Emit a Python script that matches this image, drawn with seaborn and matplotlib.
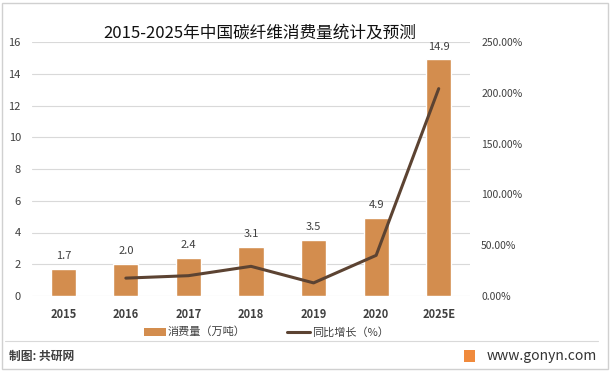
import pandas as pd
import seaborn as sns
import matplotlib.pyplot as plt
from matplotlib.patches import Rectangle
from matplotlib.lines import Line2D

# data
years = ["2015", "2016", "2017", "2018", "2019", "2020", "2025E"]
consumption = [1.7, 2.0, 2.4, 3.1, 3.5, 4.9, 14.9]          # 万吨
growth_years = ["2016", "2017", "2018", "2019", "2020", "2025E"]
growth = [17.6, 20.0, 29.2, 12.9, 40.0, 204.1]             # %

bar_color = "#D38D4E"
line_color = "#5C4332"

sns.set_style("white")
plt.rcParams['font.family'] = ['Noto Sans CJK SC', 'DejaVu Sans']

df = pd.DataFrame({"year": years, "value": consumption})
gdf = pd.DataFrame({"year": growth_years, "growth": growth})
gdf["pos"] = [years.index(y) for y in growth_years]

fig = plt.figure(figsize=(6.12, 3.71), dpi=100)
ax = fig.add_axes([32 / 612, 75 / 371, 438 / 612, 254 / 371])

sns.barplot(data=df, x="year", y="value", color=bar_color, width=0.4,
            saturation=1, ax=ax, zorder=2)
ax.set_ylim(0, 16)
ax.set_xlim(-0.5, len(years) - 0.5)
ax.set_yticks(range(0, 17, 2))
ax.grid(axis="y", color="#D9D9D9", linewidth=0.8, zorder=0)
ax.set_axisbelow(True)
for s in ax.spines.values():
    s.set_visible(False)
ax.tick_params(axis="y", length=0, labelsize=8, colors="#404040", pad=8)
ax.tick_params(axis="x", length=0, labelsize=8, colors="#404040", pad=9)
ax.set_xlabel("")
ax.set_ylabel("")
for lbl in ax.get_xticklabels():
    lbl.set_fontweight("bold")

for i, v in enumerate(consumption):
    ax.text(i, v + 0.5, f"{v:.1f}", ha="center", va="bottom", fontsize=8, color="#404040")

ax2 = ax.twinx()
sns.lineplot(data=gdf, x="pos", y="growth", color=line_color, linewidth=2.2, ax=ax2, zorder=3)
ax2.set_ylim(0, 250)
ax2.set_yticks(range(0, 251, 50))
ax2.set_yticklabels([f"{t:.2f}%" for t in range(0, 251, 50)])
ax2.set_xlim(-0.5, len(years) - 0.5)
for s in ax2.spines.values():
    s.set_visible(False)
ax2.tick_params(axis="y", length=0, labelsize=7.5, colors="#404040", pad=8)
ax2.set_xlabel("")
ax2.set_ylabel("")

fig.text(260 / 612, 1 - 33 / 371, "2015-2025年中国碳纤维消费量统计及预测", ha="center", va="center",
         fontsize=12, color="#111111")

# legend
fig.patches.append(Rectangle((144 / 612, 1 - 336 / 371), 22 / 612, 8 / 371, transform=fig.transFigure,
                             facecolor=bar_color, edgecolor="none"))
fig.text(168 / 612, 1 - 332 / 371, "消费量（万吨）", ha="left", va="center", fontsize=8, color="#404040")
fig.lines.append(Line2D([287 / 612, 310 / 612], [1 - 332 / 371] * 2, transform=fig.transFigure,
                        color=line_color, linewidth=2.2))
fig.text(312 / 612, 1 - 332 / 371, "同比增长（%）", ha="left", va="center", fontsize=8, color="#404040")

# footer
fig.lines.append(Line2D([5 / 612, 598 / 612], [1 - 341 / 371] * 2, transform=fig.transFigure,
                        color="#D9D9D9", linewidth=0.8))
fig.text(9 / 612, 1 - 356 / 371, "制图: 共研网", ha="left", va="center", fontsize=8.5,
         fontweight="bold", color="#404040")
fig.patches.append(Rectangle((464 / 612, 1 - 362 / 371), 11 / 612, 12 / 371, transform=fig.transFigure,
                             facecolor="#F08A3C", edgecolor="none"))
fig.text(487 / 612, 1 - 356 / 371, "www.gonyn.com", ha="left", va="center", fontsize=10, color="#333333")

# outer frame
fig.patches.append(Rectangle((2 / 612, 2 / 371), 606 / 612, 366 / 371, transform=fig.transFigure,
                             facecolor="none", edgecolor="#D0D0D0", linewidth=1))

fig.savefig("out.png", dpi=100)
